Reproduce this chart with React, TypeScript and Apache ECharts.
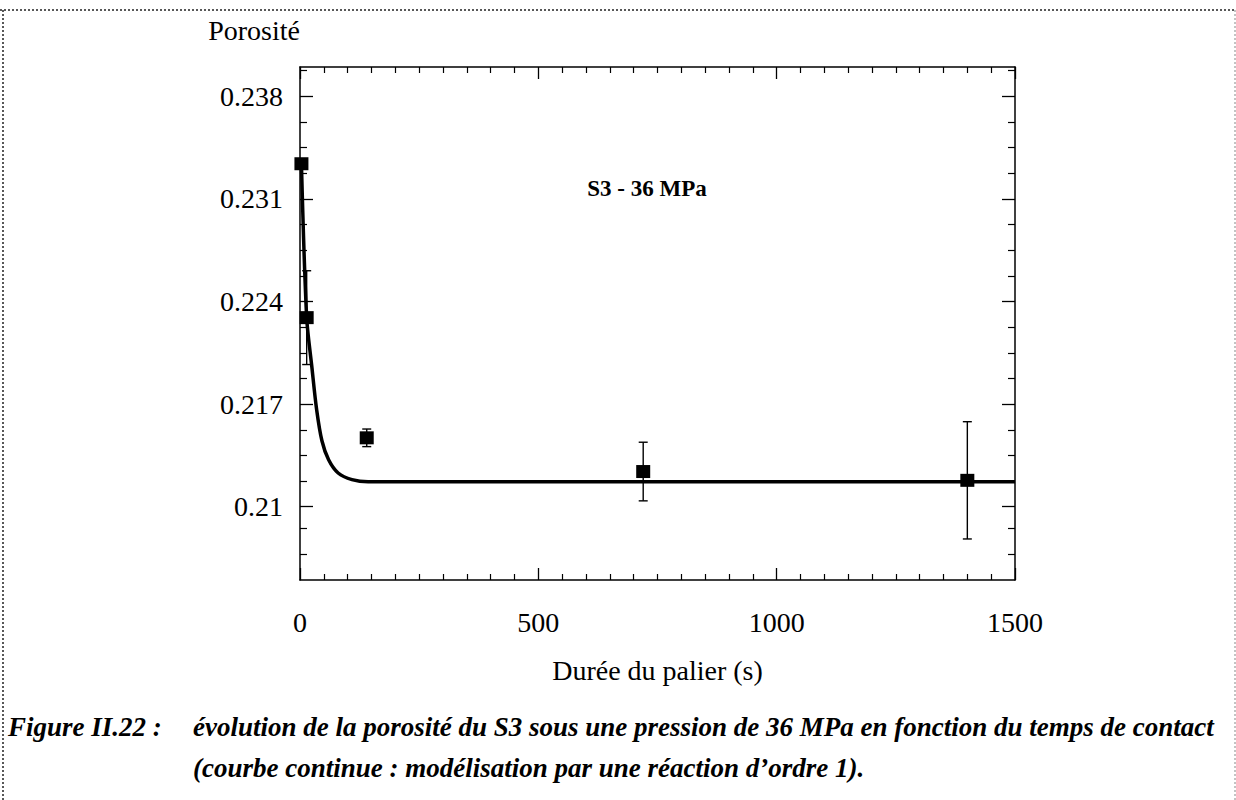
import React, { useEffect, useRef } from "react";
import * as echarts from "echarts";

// ---- data ----
const pointX = [3, 14, 140, 720, 1400];
const pointY = [0.2334, 0.2229, 0.2147, 0.2124, 0.2118];
const errLow = [0.2334, 0.2197, 0.2141, 0.2104, 0.2078];
const errHigh = [0.2334, 0.2261, 0.2153, 0.2144, 0.2158];

const curveX = [3, 14, 25, 35, 46, 60, 80, 109, 143, 250, 700, 1500];
const curveY = [0.2334, 0.2229, 0.2195, 0.2166, 0.2145, 0.2132, 0.2123, 0.21185, 0.2117, 0.2117, 0.2117, 0.2117];

const yMajorTicks = [0.21, 0.217, 0.224, 0.231, 0.238];
const yMinorTicks = [
  0.20675, 0.2085, 0.21175, 0.2135, 0.21525, 0.21875, 0.2205, 0.22225,
  0.22575, 0.2275, 0.22925, 0.23275, 0.2345, 0.23625, 0.23975,
];

const xTitle = "Durée du palier (s)";
const yTitle = "Porosité";
const annotation = "S3 - 36 MPa";
const captionHead = "Figure II.22 :";
const captionLine1 = "évolution de la porosité du S3 sous une pression de 36 MPa en fonction du temps de contact";
const captionLine2 = "(courbe continue : modélisation par une réaction d’ordre 1).";

const SERIF = "'Liberation Serif', 'Times New Roman', serif";
const FS = 28;

export default function App() {
  const ref = useRef<HTMLDivElement>(null);
  useEffect(() => {
    const chart = echarts.init(ref.current!, null, { renderer: "svg" });
    const axisLine = { show: true, lineStyle: { color: "#000", width: 1.5 } };
    const yBase = {
      type: "value" as const,
      min: 0.205,
      max: 0.24,
      splitLine: { show: false },
      axisLine,
    };
    const yMajor = (position: string, showLabel: boolean) => ({
      ...yBase,
      position,
      axisTick: { show: true, inside: true, length: 13, customValues: yMajorTicks, lineStyle: { color: "#000", width: 1.3 } },
      axisLabel: {
        show: showLabel,
        customValues: yMajorTicks,
        margin: 17,
        color: "#000",
        fontFamily: SERIF,
        fontSize: FS,
        formatter: (v: number) => String(v),
      },
    });
    const yMinor = (position: string) => ({
      ...yBase,
      position,
      axisLine: { show: false },
      axisTick: { show: true, inside: true, length: 7, customValues: yMinorTicks, lineStyle: { color: "#000", width: 1.2 } },
      axisLabel: { show: false },
    });
    const xBase = (position: string, showLabel: boolean) => ({
      type: "value" as const,
      position,
      min: 0,
      max: 1500,
      interval: 500,
      splitLine: { show: false },
      axisLine,
      axisTick: { show: true, inside: true, length: 12, lineStyle: { color: "#000", width: 1.3 } },
      minorTick: { show: true, splitNumber: 10, length: 6, lineStyle: { color: "#000", width: 1.2 } },
      axisLabel: {
        show: showLabel,
        margin: 28,
        color: "#000",
        fontFamily: SERIF,
        fontSize: FS,
        formatter: (v: number) => String(v),
      },
    });

    const option: any = {
      animation: false,
      backgroundColor: "#fff",
      grid: { left: 300, top: 67, right: 221, bottom: 220, containLabel: false },
      xAxis: [
        {
          ...xBase("bottom", true),
          name: xTitle,
          nameLocation: "middle",
          nameGap: 76,
          nameTextStyle: { color: "#000", fontFamily: SERIF, fontSize: FS, verticalAlign: "top" },
        },
        xBase("top", false),
      ],
      yAxis: [
        {
          ...yMajor("left", true),
          name: yTitle,
          nameLocation: "end",
          nameGap: 37,
          nameTextStyle: { color: "#000", fontFamily: SERIF, fontSize: FS, align: "right", verticalAlign: "middle" },
        },
        yMinor("left"),
        yMajor("right", false),
        yMinor("right"),
      ],
      series: [
        {
          type: "line",
          data: curveX.map((x, i) => [x, curveY[i]]),
          smooth: 0.3,
          showSymbol: false,
          lineStyle: { color: "#000", width: 3.5 },
          z: 2,
        },
        {
          type: "custom",
          data: pointX.map((x, i) => [x, errLow[i], errHigh[i]]),
          renderItem: (params: any, api: any) => {
            const x = api.value(0);
            const lo = api.coord([x, api.value(1)]);
            const hi = api.coord([x, api.value(2)]);
            const w = 4.5;
            const st = { stroke: "#000", lineWidth: 1.4 };
            return {
              type: "group",
              children: [
                { type: "line", shape: { x1: lo[0], y1: lo[1], x2: hi[0], y2: hi[1] }, style: st },
                { type: "line", shape: { x1: lo[0] - w, y1: lo[1], x2: lo[0] + w, y2: lo[1] }, style: st },
                { type: "line", shape: { x1: hi[0] - w, y1: hi[1], x2: hi[0] + w, y2: hi[1] }, style: st },
              ],
            };
          },
          z: 3,
        },
        {
          type: "scatter",
          data: pointX.map((x, i) => [x, pointY[i]]),
          symbol: "rect",
          symbolSize: [14, 13],
          itemStyle: { color: "#000", opacity: 1 },
          z: 4,
        },
      ],
      graphic: [
        { type: "line", shape: { x1: 0, y1: 10, x2: 1236, y2: 10 }, style: { stroke: "#222", lineWidth: 1.5, lineDash: [2, 2] } },
        { type: "line", shape: { x1: 3, y1: 10, x2: 3, y2: 800 }, style: { stroke: "#222", lineWidth: 1.5, lineDash: [2, 2] } },
        { type: "line", shape: { x1: 1235, y1: 10, x2: 1235, y2: 800 }, style: { stroke: "#888", lineWidth: 1, lineDash: [2, 2] } },
        {
          type: "text",
          x: 647,
          y: 188,
          style: { text: annotation, fill: "#000", font: `bold 23px ${SERIF}`, align: "center", verticalAlign: "middle" },
        },
        {
          type: "text",
          x: 8,
          y: 727,
          style: { text: captionHead, fill: "#000", font: `italic bold 27px ${SERIF}`, align: "left", verticalAlign: "middle" },
        },
        {
          type: "text",
          x: 193,
          y: 727,
          style: { text: captionLine1, fill: "#000", font: `italic bold 27px ${SERIF}`, align: "left", verticalAlign: "middle" },
        },
        {
          type: "text",
          x: 193,
          y: 768,
          style: { text: captionLine2, fill: "#000", font: `italic bold 27px ${SERIF}`, align: "left", verticalAlign: "middle" },
        },
      ],
    };
    chart.setOption(option);
    return () => chart.dispose();
  }, []);
  return <div ref={ref} style={{ position: "fixed", left: 0, top: 0, width: 1236, height: 800 }} />;
}
